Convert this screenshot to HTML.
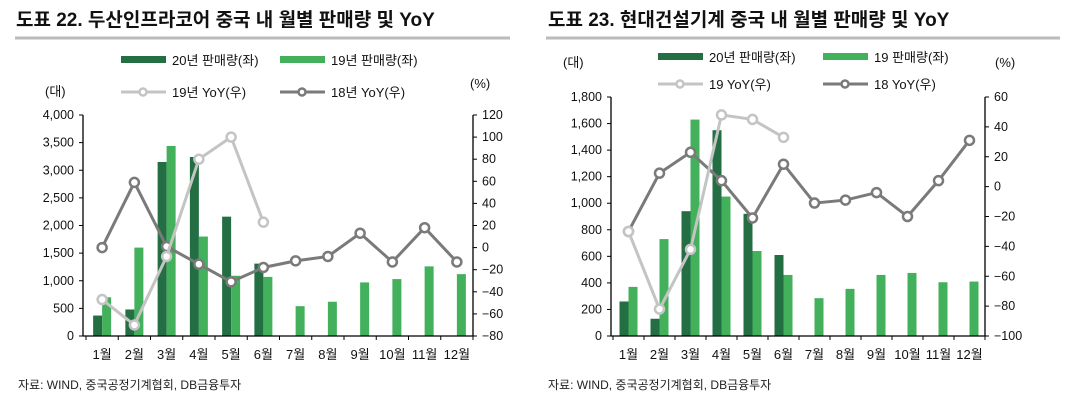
<!DOCTYPE html>
<html><head><meta charset="utf-8">
<style>
body{margin:0;background:#fff;font-family:"Liberation Sans","Noto Sans CJK KR",sans-serif;}
svg text{font-family:"Liberation Sans","Noto Sans CJK KR",sans-serif;}
</style></head>
<body>
<svg id="s" width="1074" height="404" viewBox="0 0 1074 404">
<text x="16" y="26" font-size="19" font-weight="bold" fill="#111">도표 22. 두산인프라코어 중국 내 월별 판매량 및 YoY</text>
<line x1="15" y1="38" x2="510" y2="38" stroke="#bbb" stroke-width="3"/>
<text x="548" y="26" font-size="19" font-weight="bold" fill="#111">도표 23. 현대건설기계 중국 내 월별 판매량 및 YoY</text>
<line x1="546" y1="38" x2="1060" y2="38" stroke="#bbb" stroke-width="3"/>
<text x="18" y="389" font-size="12" fill="#222">자료: WIND, 중국공정기계협회, DB금융투자</text>
<text x="548" y="389" font-size="12" fill="#222">자료: WIND, 중국공정기계협회, DB금융투자</text>
</svg>
<script>
const months=["1월","2월","3월","4월","5월","6월","7월","8월","9월","10월","11월","12월"];
const c1Sales20=[370,480,3150,3240,2160,1310];
const c1Sales19=[700,1600,3440,1800,1090,1070,540,620,970,1030,1260,1120];
const c1Yoy19=[-47,-70,-8,80,100,23];
const c1Yoy18=[0,59,1,-15,-31,-18,-12,-8,13,-13,18,-13];
const c1LeftTicks=[0,500,1000,1500,2000,2500,3000,3500,4000];
const c1RightTicks=[-80,-60,-40,-20,0,20,40,60,80,100,120];
const c2Sales20=[260,130,940,1550,920,610];
const c2Sales19=[370,730,1630,1050,640,460,285,355,460,475,405,410];
const c2Yoy19=[-30,-82,-42,48,45,33];
const c2Yoy18=[-30,9,23,4,-21,15,-11,-9,-4,-20,4,31];
const c2LeftTicks=[0,200,400,600,800,1000,1200,1400,1600,1800];
const c2RightTicks=[-100,-80,-60,-40,-20,0,20,40,60];

const NS="http://www.w3.org/2000/svg";
const svg=document.getElementById('s');
function mk(tag,attrs,parent){const e=document.createElementNS(NS,tag);for(const k in attrs)e.setAttribute(k,attrs[k]);(parent||svg).appendChild(e);return e;}
function fmt(v){return v.toLocaleString('en-US').replace('-','−');}

function drawChart(p,cfg){
  const g=mk('g',{});
  
  
  const {x0,x1,axisX,top,bottom,lMax,rMin,rMax,s20,s19,y19,y18,lt,rt,bw,leg}=cfg;
  const cw=(x1-x0)/12;
  const xc=i=>x0+cw*(i+0.5);
  const yl=v=>bottom-(v/lMax)*(bottom-top);
  const yr=v=>bottom-((v-rMin)/(rMax-rMin))*(bottom-top);
  s20.forEach((v,i)=>{const r=mk('rect',{x:xc(i)-bw,y:yl(v),width:bw,height:bottom-yl(v),fill:'#236e43'},g);
    
    });
  s19.forEach((v,i)=>{const r=mk('rect',{x:xc(i),y:yl(v),width:bw,height:bottom-yl(v),fill:'#43b05c'},g);
    
    });
  const la=mk('line',{x1:axisX,y1:top,x2:axisX,y2:bottom,stroke:'#000','stroke-width':1.3},g);
  
  
  const ra=mk('line',{x1:x1,y1:top,x2:x1,y2:bottom,stroke:'#000','stroke-width':1.3},g);
  
  
  const xa=mk('line',{x1:axisX,y1:bottom,x2:x1,y2:bottom,stroke:'#000','stroke-width':1.3},g);
  
  
  lt.forEach(v=>{mk('line',{x1:axisX-4,y1:yl(v),x2:axisX,y2:yl(v),stroke:'#000'},g);
    const t=mk('text',{x:axisX-9,y:yl(v)+4,'font-size':12.5,'text-anchor':'end',fill:'#111'},g);t.textContent=fmt(v);
    
    });
  rt.forEach(v=>{mk('line',{x1:x1,y1:yr(v),x2:x1+4,y2:yr(v),stroke:'#000'},g);
    const t=mk('text',{x:x1+9,y:yr(v)+4,'font-size':12.5,fill:'#111'},g);t.textContent=fmt(v);
    
    });
  for(let i=0;i<=12;i++)mk('line',{x1:x0+cw*i,y1:bottom,x2:x0+cw*i,y2:bottom+4,stroke:'#000'},g);
  months.forEach((m,i)=>{const t=mk('text',{x:xc(i),y:bottom+23,'font-size':13,'text-anchor':'middle',fill:'#111'},g);t.textContent=m;
    
    });
  function line(arr,col,name){
    const pl=mk('polyline',{points:arr.map((v,i)=>xc(i)+','+yr(v)).join(' '),fill:'none',stroke:col,'stroke-width':3},g);
    
    
    arr.forEach((v,i)=>{const c=mk('circle',{cx:xc(i),cy:yr(v),r:4.5,fill:'#fff',stroke:col,'stroke-width':2.5},g);
      
      });
  }
  line(y18,'#7a7a7a','yoy18');
  line(y19,'#c4c4c4','yoy19');
  const L=leg;
  const u1=mk('text',{x:L.unitL,y:L.uyL,'font-size':13,fill:'#111'},g);u1.textContent='(대)';
  
  
  const u2=mk('text',{x:L.unitR,y:L.uyR,'font-size':13,fill:'#111'},g);u2.textContent='(%)';
  
  
  const items=[[L.a,L.y1,'bar','#236e43',L.t1],[L.b,L.y1,'bar','#43b05c',L.t2],[L.a,L.y2,'ln','#c4c4c4',L.t3],[L.b,L.y2,'ln','#7a7a7a',L.t4]];
  items.forEach(([x,y,k,col,txt])=>{
    const lg=mk('g',{},g);
    
    
    if(k==='bar')mk('rect',{x:x,y:y-4,width:45,height:7,fill:col},lg);
    else{mk('line',{x1:x,y1:y,x2:x+45,y2:y,stroke:col,'stroke-width':3},lg);mk('circle',{cx:x+22,cy:y,r:3.5,fill:'#fff',stroke:col,'stroke-width':2.5},lg);}
    const t=mk('text',{x:x+51,y:y+5,'font-size':13,fill:'#111'},lg);t.textContent=txt;
  });
}
drawChart('chart1',{x0:86,x1:473,axisX:83,top:115,bottom:336,lMax:4000,rMin:-80,rMax:120,s20:c1Sales20,s19:c1Sales19,y19:c1Yoy19,y18:c1Yoy18,lt:c1LeftTicks,rt:c1RightTicks,bw:9,
  leg:{a:121,b:280,y1:60,y2:92,unitL:45,unitR:470,uyL:96,uyR:88,t1:'20년 판매량(좌)',t2:'19년 판매량(좌)',t3:'19년 YoY(우)',t4:'18년 YoY(우)'}});
drawChart('chart2',{x0:613,x1:985,axisX:611,top:97,bottom:336,lMax:1800,rMin:-100,rMax:60,s20:c2Sales20,s19:c2Sales19,y19:c2Yoy19,y18:c2Yoy18,lt:c2LeftTicks,rt:c2RightTicks,bw:9,
  leg:{a:658,b:823,y1:57,y2:84,unitL:563,unitR:995,uyL:67,uyR:67,t1:'20년 판매량(좌)',t2:'19 판매량(좌)',t3:'19 YoY(우)',t4:'18 YoY(우)'}});
</script>
</body></html>
